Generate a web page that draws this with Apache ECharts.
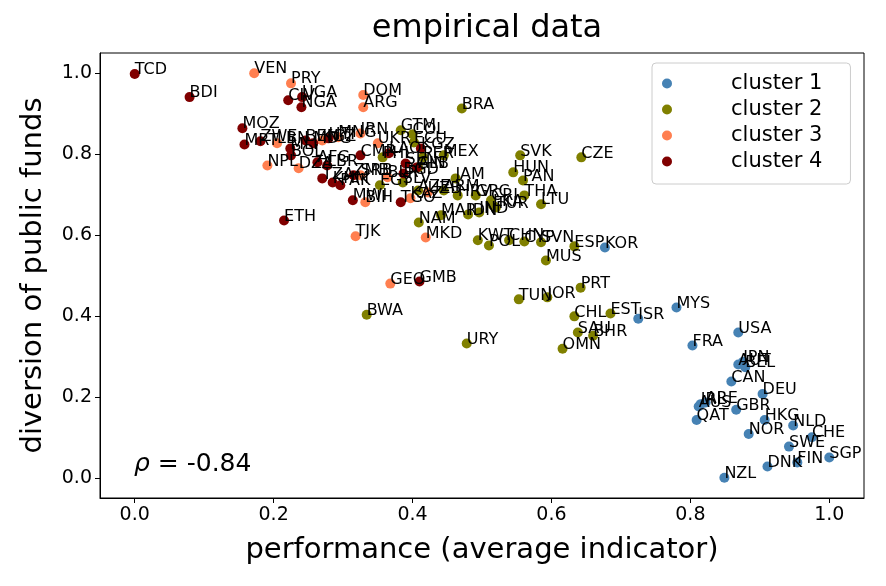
<!DOCTYPE html>
<html>
<head>
<meta charset="utf-8">
<script src="https://cdn.jsdelivr.net/npm/echarts@6/dist/echarts.min.js"></script>
<style>
  html, body { margin: 0; padding: 0; background: #fff; }
  #chart { width: 886px; height: 586px; }
</style>
</head>
<body>
<div id="chart"></div>
<script>
// cluster 1
const c1Codes = ["KOR", "MYS", "ISR", "FRA", "USA", "AUT", "JPN", "BEL", "CAN", "DEU", "IRL", "ARE", "AUS", "GBR", "QAT", "HKG", "NOR", "NLD", "CHE", "SWE", "FIN", "SGP", "DNK", "NZL"];
const c1Perf = [0.677, 0.780, 0.725, 0.803, 0.869, 0.869, 0.876, 0.879, 0.859, 0.904, 0.815, 0.822, 0.812, 0.866, 0.809, 0.907, 0.884, 0.948, 0.975, 0.942, 0.954, 1.000, 0.911, 0.849];
const c1Div = [0.569, 0.421, 0.393, 0.327, 0.359, 0.280, 0.287, 0.273, 0.238, 0.207, 0.182, 0.186, 0.176, 0.168, 0.143, 0.143, 0.108, 0.129, 0.100, 0.077, 0.038, 0.050, 0.028, 0.000];

// cluster 2
const c2Codes = ["BRA", "GTM", "COL", "ECU", "PHL", "PER", "MEX", "ALB", "EGY", "SLV", "AZE", "ARM", "JAM", "HRV", "GRC", "CRI", "LKA", "IDN", "IND", "TUR", "PAN", "HUN", "SVK", "CZE", "THA", "LTU", "NAM", "MAR", "KWT", "POL", "CHN", "CYP", "SVN", "MUS", "ESP", "PRT", "TUN", "JOR", "CHL", "EST", "SAU", "BHR", "OMN", "URY", "BWA"];
const c2Perf = [0.471, 0.383, 0.400, 0.402, 0.357, 0.415, 0.445, 0.408, 0.353, 0.386, 0.408, 0.445, 0.462, 0.465, 0.491, 0.513, 0.516, 0.480, 0.496, 0.520, 0.559, 0.545, 0.555, 0.643, 0.561, 0.585, 0.409, 0.441, 0.494, 0.510, 0.539, 0.561, 0.585, 0.592, 0.633, 0.642, 0.553, 0.594, 0.633, 0.685, 0.638, 0.660, 0.616, 0.478, 0.334];
const c2Div = [0.913, 0.859, 0.849, 0.829, 0.792, 0.792, 0.797, 0.767, 0.723, 0.730, 0.710, 0.710, 0.740, 0.698, 0.698, 0.686, 0.673, 0.651, 0.656, 0.668, 0.735, 0.755, 0.797, 0.792, 0.698, 0.676, 0.631, 0.649, 0.587, 0.574, 0.587, 0.584, 0.582, 0.537, 0.572, 0.470, 0.441, 0.446, 0.399, 0.406, 0.359, 0.351, 0.319, 0.332, 0.403];

// cluster 3
const c3Codes = ["VEN", "PRY", "DOM", "ARG", "LBN", "NPL", "DZA", "KGZ", "MNG", "IRN", "UKR", "SRB", "BLR", "UZB", "KAZ", "BIH", "TJK", "MKD", "GEO"];
const c3Perf = [0.172, 0.225, 0.329, 0.329, 0.205, 0.191, 0.236, 0.270, 0.293, 0.325, 0.350, 0.325, 0.364, 0.422, 0.397, 0.332, 0.318, 0.419, 0.368];
const c3Div = [1.000, 0.975, 0.946, 0.916, 0.827, 0.772, 0.765, 0.834, 0.842, 0.851, 0.827, 0.748, 0.743, 0.705, 0.691, 0.681, 0.597, 0.594, 0.480];

// cluster 4
const c4Codes = ["TCD", "BDI", "CIV", "UGA", "NGA", "MOZ", "MRT", "ZWE", "MLI", "BOL", "BEN", "MDG", "HTI", "AFG", "LBR", "TZA", "KHM", "PAK", "ZMB", "CMR", "LAO", "KGZ", "SEN", "BGD", "GIN", "MWI", "TGO", "ETH", "GMB"];
const c4Perf = [0.000, 0.079, 0.221, 0.241, 0.240, 0.155, 0.158, 0.181, 0.224, 0.225, 0.246, 0.257, 0.279, 0.263, 0.277, 0.270, 0.285, 0.296, 0.315, 0.325, 0.366, 0.412, 0.390, 0.387, 0.406, 0.314, 0.383, 0.215, 0.410];
const c4Div = [0.998, 0.941, 0.933, 0.941, 0.916, 0.864, 0.824, 0.832, 0.814, 0.797, 0.834, 0.827, 0.839, 0.780, 0.772, 0.740, 0.730, 0.723, 0.748, 0.797, 0.802, 0.814, 0.777, 0.752, 0.767, 0.686, 0.681, 0.636, 0.485];

const clusterNames = ["cluster 1", "cluster 2", "cluster 3", "cluster 4"];
const clusterColors = ["#4682b4", "#808000", "#ff7f50", "#800000"];
const xTicks = [0, 0.2, 0.4, 0.6, 0.8, 1.0];
const yTicks = [0, 0.2, 0.4, 0.6, 0.8, 1.0];
const rho = "-0.84";

const FONT = "DejaVu Sans";

// 一个 cluster 一个 scatter series
function makeSeries(idx, codes, perf, div) {
  return {
    name: clusterNames[idx],
    type: "scatter",
    symbolSize: 10,
    itemStyle: { color: clusterColors[idx], opacity: 1 },
    label: {
      show: true,
      formatter: (p) => p.name,
      position: [5, 9],
      align: "left",
      verticalAlign: "bottom",
      color: "#000",
      fontFamily: FONT,
      fontSize: 16,
    },
    emphasis: { disabled: true },
    data: codes.map((c, i) => ({ name: c, value: [perf[i], div[i]] })),
  };
}

const chart = echarts.init(document.getElementById("chart"), null, { renderer: "canvas" });

chart.setOption({
  animation: false,
  backgroundColor: "#fff",
  color: clusterColors,
  title: {
    text: "empirical data",
    left: 482,
    textAlign: "center",
    top: 8,
    textStyle: { fontFamily: FONT, fontSize: 32, fontWeight: "normal", color: "#000" },
  },
  legend: {
    orient: "vertical",
    left: 652,
    top: 63,
    padding: [10, 28, 12, 10],
    itemWidth: 10,
    itemHeight: 10,
    itemGap: 5,
    icon: "circle",
    borderColor: "#cccccc",
    borderWidth: 1,
    borderRadius: 4,
    textStyle: { fontFamily: FONT, fontSize: 21, color: "#000", padding: [0, 0, 0, 54] },
    data: clusterNames,
  },
  grid: {
    left: 100,
    right: 22,
    top: 53,
    bottom: 88,
    show: true,
    borderColor: "#000",
    borderWidth: 1,
  },
  xAxis: {
    type: "value",
    min: -0.05,
    max: 1.05,
    name: "performance (average indicator)",
    nameLocation: "middle",
    nameGap: 38,
    nameTextStyle: { fontFamily: FONT, fontSize: 29, color: "#000", verticalAlign: "top" },
    axisLine: { show: true, onZero: false, lineStyle: { color: "#000", width: 1 } },
    axisTick: { show: true, length: 5, lineStyle: { color: "#000" }, customValues: xTicks },
    axisLabel: {
      customValues: xTicks,
      formatter: (v) => v.toFixed(1),
      fontFamily: FONT,
      fontSize: 19,
      color: "#000",
      margin: 8,
    },
    splitLine: { show: false },
  },
  yAxis: {
    type: "value",
    min: -0.05,
    max: 1.05,
    name: "diversion of public funds",
    nameLocation: "middle",
    nameGap: 52,
    nameTextStyle: { fontFamily: FONT, fontSize: 29, color: "#000" },
    axisLine: { show: true, onZero: false, lineStyle: { color: "#000", width: 1 } },
    axisTick: { show: true, length: 5, lineStyle: { color: "#000" }, customValues: yTicks },
    axisLabel: {
      customValues: yTicks,
      formatter: (v) => v.toFixed(1),
      fontFamily: FONT,
      fontSize: 19,
      color: "#000",
      margin: 8,
    },
    splitLine: { show: false },
  },
  graphic: [
    {
      type: "text",
      left: 134,
      top: 452,
      style: {
        text: "{a|ρ}{b| = " + rho + "}",
        rich: {
          a: { fontFamily: FONT, fontSize: 25, fontStyle: "italic", fill: "#000" },
          b: { fontFamily: FONT, fontSize: 25, fill: "#000" },
        },
      },
    },
  ],
  series: [
    makeSeries(0, c1Codes, c1Perf, c1Div),
    makeSeries(1, c2Codes, c2Perf, c2Div),
    makeSeries(2, c3Codes, c3Perf, c3Div),
    makeSeries(3, c4Codes, c4Perf, c4Div),
  ],
});
</script>
</body>
</html>
